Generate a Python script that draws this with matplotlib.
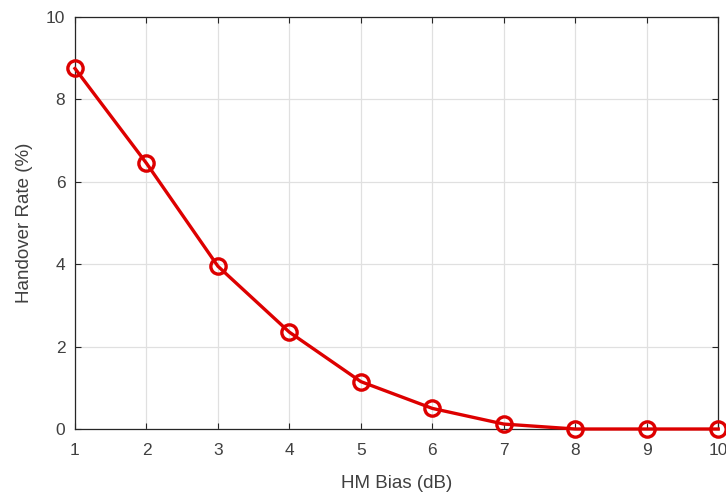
import matplotlib
matplotlib.use("Agg")
import matplotlib.pyplot as plt

hm_bias = [1, 2, 3, 4, 5, 6, 7, 8, 9, 10]
handover_rate = [8.75, 6.45, 3.95, 2.35, 1.15, 0.5, 0.12, 0.0, 0.0, 0.0]

plt.rcParams["font.family"] = ["Liberation Sans", "DejaVu Sans"]

TXT = "#404040"

fig = plt.figure(figsize=(7.26, 4.97), dpi=100)
ax = fig.add_axes([0.1033, 0.1368, 0.886, 0.829])

ax.plot(hm_bias, handover_rate, color="#dd0000", linewidth=2.4,
        marker="o", markersize=11, markerfacecolor="none",
        markeredgewidth=2.4, markeredgecolor="#dd0000", clip_on=False, zorder=3)

ax.set_xlim(1, 10)
ax.set_ylim(0, 10)
ax.set_xticks(range(1, 11))
ax.set_yticks(range(0, 11, 2))
ax.grid(True, color="#e0e0e0", linewidth=0.9)
ax.set_axisbelow(True)

ax.tick_params(direction="in", length=4, color="#262626", labelcolor=TXT,
               labelsize=12.5, top=True, right=True)
ax.tick_params(axis="x", pad=10)
ax.tick_params(axis="y", pad=7)
for s in ax.spines.values():
    s.set_color("#262626")
    s.set_linewidth(0.9)

ax.set_xlabel("HM Bias (dB)", fontsize=13.5, color=TXT, labelpad=12)
ax.set_ylabel("Handover Rate (%)", fontsize=13.5, color=TXT, labelpad=9)

fig.savefig("out.png", dpi=100)
